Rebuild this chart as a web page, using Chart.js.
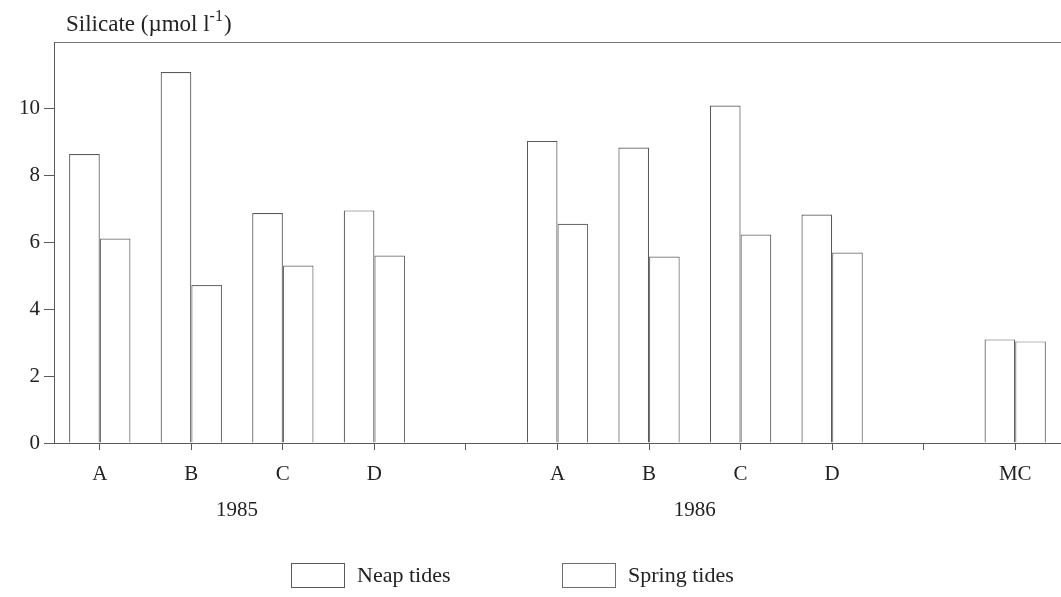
<!DOCTYPE html>
<html>
<head>
<meta charset="utf-8">
<script src="https://cdn.jsdelivr.net/npm/chart.js@4.4.1/dist/chart.umd.min.js"></script>
<style>
    html, body { margin: 0; padding: 0; background: #ffffff; }
    #wrap { width: 1061px; height: 597px; position: relative; }
</style>
</head>
<body>
<div id="wrap"><canvas id="silicateChart"></canvas></div>
<script>
// values (µmol l-1)
const categories = ['A', 'B', 'C', 'D', '', 'A', 'B', 'C', 'D', '', 'MC'];
const neapTides = [8.65, 11.1, 6.88, 6.96, null, 9.04, 8.84, 10.1, 6.84, null, 3.1];
const springTides = [6.12, 4.73, 5.31, 5.61, null, 6.56, 5.58, 6.24, 5.7, null, 3.04];
const yTicks = [0, 2, 4, 6, 8, 10];
const years = ['1985', '1986'];
const yearSpans = [[0, 3], [5, 8]];

const serif = "'Liberation Serif', 'Times New Roman', serif";
const ink = '#222222';
const lineCol = '#5a5a5a';

// title, year labels and legend drawn on the canvas
const extrasPlugin = {
    id: 'extras',
    afterDraw: function (chart) {
        const ctx = chart.ctx;
        const area = chart.chartArea;
        const x = chart.scales.x;

        ctx.save();
        ctx.fillStyle = ink;
        ctx.textBaseline = 'alphabetic';
        ctx.textAlign = 'left';

        // y axis title with superscript
        let tx = area.left + 12;
        const ty = area.top - 11;
        ctx.font = '23px ' + serif;
        const part1 = 'Silicate (\u00b5mol l';
        ctx.fillText(part1, tx, ty);
        tx += ctx.measureText(part1).width;
        ctx.font = '16px ' + serif;
        ctx.fillText('-1', tx, ty - 10);
        tx += ctx.measureText('-1').width;
        ctx.font = '23px ' + serif;
        ctx.fillText(')', tx + 1, ty);

        // year labels under the groups
        ctx.font = '21px ' + serif;
        ctx.textAlign = 'center';
        ctx.textBaseline = 'middle';
        years.forEach(function (yr, i) {
            const cx = (x.getPixelForValue(yearSpans[i][0]) + x.getPixelForValue(yearSpans[i][1])) / 2;
            ctx.fillText(yr, cx, 510);
        });

        // legend
        const boxW = 53, boxH = 24, legY = 563;
        const starts = [291, 562];
        ctx.font = '22px ' + serif;
        ctx.textAlign = 'left';
        chart.data.datasets.forEach(function (ds, i) {
            ctx.fillStyle = '#ffffff';
            ctx.strokeStyle = ds.borderColor;
            ctx.lineWidth = 1;
            ctx.fillRect(starts[i], legY, boxW, boxH);
            ctx.strokeRect(starts[i] + 0.5, legY + 0.5, boxW, boxH);
            ctx.fillStyle = ink;
            ctx.fillText(ds.label, starts[i] + boxW + 13, legY + boxH / 2 + 1);
        });
        ctx.restore();
    }
};

const silicateChart = new Chart(document.getElementById('silicateChart'), {
    type: 'bar',
    data: {
        labels: categories,
        datasets: [
            {
                label: 'Neap tides',
                data: neapTides,
                backgroundColor: '#ffffff',
                borderColor: lineCol,
                borderWidth: 1.2,
                categoryPercentage: 0.67,
                barPercentage: 1.0
            },
            {
                label: 'Spring tides',
                data: springTides,
                backgroundColor: '#ffffff',
                borderColor: '#6e6e6e',
                borderWidth: 1.2,
                categoryPercentage: 0.67,
                barPercentage: 1.0
            }
        ]
    },
    options: {
        responsive: true,
        maintainAspectRatio: false,
        animation: false,
        layout: { padding: { top: 34, left: 0, right: 0, bottom: 59 } },
        scales: {
            x: {
                offset: true,
                grid: { drawOnChartArea: false, offset: false, tickLength: 7, color: lineCol },
                border: { color: lineCol, width: 1 },
                ticks: { color: ink, font: { family: serif, size: 21 }, padding: 12, autoSkip: false, maxRotation: 0 },
                afterFit: function (scale) { scale.height = 95; }
            },
            xTop: {
                type: 'category',
                position: 'top',
                grid: { display: false },
                ticks: { display: false },
                border: { display: true, color: '#777777', width: 1 }
            },
            y: {
                min: 0,
                max: 12,
                afterBuildTicks: function (scale) {
                    scale.ticks = yTicks.map(function (v) { return { value: v }; });
                },
                grid: { drawOnChartArea: false, tickLength: 10, color: lineCol },
                border: { color: lineCol, width: 1 },
                ticks: { color: ink, font: { family: serif, size: 21 }, padding: 4 },
                afterFit: function (scale) { scale.width = 54; }
            }
        },
        plugins: {
            legend: { display: false },
            tooltip: { enabled: false }
        }
    },
    plugins: [extrasPlugin]
});
</script>
</body>
</html>
